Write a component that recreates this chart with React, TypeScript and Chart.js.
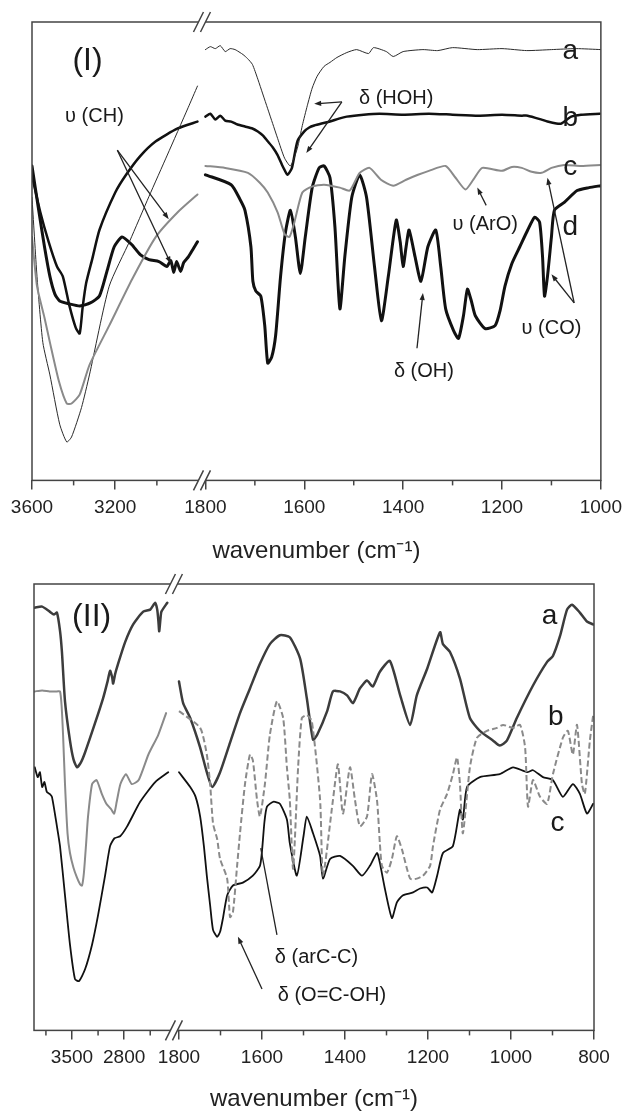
import React, { useEffect, useRef } from 'react';
import { Chart, registerables, LinearScale } from 'chart.js';

Chart.register(...registerables);

const FONT = '"Liberation Sans", Arial, Helvetica, sans-serif';

// ---------- axis layout (broken wavenumber axis) ----------
type Seg = { from: number; to: number; start: number; end: number };
const SEGMENTS: Record<string, Seg[]> = {
  I: [
    { from: 3600, to: 2800, start: 0, end: 168 / 574 },
    { from: 1800, to: 1000, start: 175 / 574, end: 1 },
  ],
  II: [
    { from: 4010, to: 2200, start: 0, end: 134.85 / 560 },
    { from: 1800, to: 800, start: 145 / 560, end: 1 },
  ],
};

class BrokenAxis extends LinearScale {
  static id = 'brokenAxis';
  segs(): Seg[] {
    return SEGMENTS[(this.options as any).segmentKey] || SEGMENTS.I;
  }
  getPixelForValue(value: number) {
    if (value === null || value === undefined || isNaN(value)) return NaN;
    const segs = this.segs();
    let best = segs[0];
    let bestDist = Infinity;
    for (const s of segs) {
      const hi = Math.max(s.from, s.to);
      const lo = Math.min(s.from, s.to);
      if (value >= lo && value <= hi) { best = s; break; }
      const d = Math.min(Math.abs(value - lo), Math.abs(value - hi));
      if (d < bestDist) { bestDist = d; best = s; }
    }
    const t = (best.from - value) / (best.from - best.to);
    const frac = best.start + t * (best.end - best.start);
    return this.left + frac * this.width;
  }
  getValueForPixel(pixel: number) {
    const segs = this.segs();
    const frac = (pixel - this.left) / this.width;
    for (const s of segs) {
      if (frac >= s.start && frac <= s.end) {
        return s.from + ((frac - s.start) / (s.end - s.start)) * (s.to - s.from);
      }
    }
    return segs[0].from;
  }
}
Chart.register(BrokenAxis as any);

// ---------- tick labels ----------
const I_MAJOR = [3600, 3200, 1800, 1600, 1400, 1200, 1000];
const I_MINOR = [3400, 3000, 1700, 1500, 1300, 1100];
const II_MAJOR = [3500, 2800, 1800, 1600, 1400, 1200, 1000, 800];
const II_MINOR = [3850, 3150, 2450, 1700, 1500, 1300, 1100, 900];

// ---------- Panel (I) spectra: [wavenumber, transmittance a.u.] ----------
const I_A_L = [[3600,287],[3576,207],[3548,140],[3514,107],[3467,57],[3433,39],[3410,44],[3362,74],[3324,107],[3229,197],[3130,243],[3038,288],[2950,330],[2850,378],[2805,400]];
const I_B_L = [[3600,309],[3560,272],[3520,242],[3480,217],[3452,207],[3420,177],[3390,155],[3371,149],[3357,175],[3340,200],[3310,225],[3276,254],[3200,292],[3148,310],[3080,329],[3005,344],[2900,357],[2805,364]];
const I_C_L = [[3600,247],[3576,197],[3540,165],[3514,140],[3470,100],[3433,78],[3410,78],[3371,87],[3324,117],[3229,157],[3119,204],[3005,247],[2900,272],[2805,290]];
const I_D_L = [[3600,319],[3570,277],[3540,237],[3514,207],[3490,189],[3467,182],[3419,179],[3370,177],[3320,180],[3276,187],[3240,212],[3205,237],[3167,247],[3120,239],[3080,229],[3038,224],[2990,222],[2952,217],[2933,223],[2919,211],[2905,222],[2886,212],[2871,221],[2848,227],[2825,235],[2805,242]];

const I_A_R = [[1800,437],[1790,440],[1780,438],[1770,441],[1760,435],[1750,438],[1740,437],[1730,434],[1724,432],[1715,428],[1705,422],[1694,407],[1684,392],[1674,377],[1664,362],[1654,347],[1640,327],[1628,319],[1614,337],[1604,360],[1594,380],[1584,398],[1574,410],[1560,420],[1548,424],[1534,429],[1514,434],[1494,437],[1470,433],[1460,439],[1434,435],[1420,430],[1400,435],[1360,437],[1330,436],[1300,439],[1250,437],[1200,438],[1150,436],[1100,437],[1050,438],[1000,437]];
const I_B_R = [[1800,369],[1790,372],[1780,366],[1770,370],[1760,365],[1748,364],[1735,361],[1720,359],[1705,357],[1694,354],[1684,350],[1674,344],[1664,338],[1654,330],[1645,320],[1640,315],[1634,310],[1625,317],[1614,344],[1600,354],[1590,358],[1580,360],[1565,362],[1548,364],[1530,367],[1514,369],[1480,371],[1448,372],[1400,371],[1348,372],[1300,371],[1248,370],[1200,371],[1160,370],[1148,370],[1120,366],[1108,364],[1090,362],[1080,362],[1060,369],[1040,371],[1002,372]];
const I_C_R = [[1800,319],[1760,317],[1714,312],[1690,302],[1674,292],[1654,272],[1640,250],[1630,247],[1620,262],[1604,292],[1585,298],[1560,300],[1528,297],[1508,294],[1488,312],[1468,317],[1445,305],[1420,299],[1394,305],[1370,310],[1348,314],[1314,319],[1294,307],[1274,295],[1258,305],[1240,317],[1200,314],[1180,318],[1160,317],[1140,313],[1120,312],[1100,317],[1074,320],[1040,319],[1000,320]];
const I_D_R = [[1800,310],[1748,300],[1730,285],[1720,274],[1708,237],[1704,202],[1698,192],[1688,187],[1680,157],[1674,119],[1666,125],[1658,147],[1648,207],[1638,252],[1628,274],[1618,247],[1608,210],[1598,247],[1584,297],[1570,317],[1560,319],[1548,307],[1538,257],[1528,174],[1518,227],[1504,287],[1488,310],[1474,287],[1458,217],[1444,162],[1430,207],[1414,264],[1406,242],[1400,217],[1394,237],[1388,254],[1376,227],[1364,202],[1350,237],[1334,254],[1324,217],[1314,174],[1298,152],[1288,144],[1278,167],[1270,194],[1262,182],[1254,167],[1234,154],[1214,157],[1204,172],[1194,197],[1180,220],[1164,237],[1148,254],[1134,267],[1124,262],[1118,227],[1114,187],[1108,207],[1100,247],[1094,274],[1074,282],[1048,294],[1024,297],[1000,299]];

// ---------- Panel (II) spectra ----------
const II_A_L = [[4000,429],[3900,430],[3800,425],[3740,422],[3702,424],[3660,405],[3635,384],[3594,334],[3527,294],[3480,275],[3433,267],[3380,272],[3325,282],[3190,312],[3083,337],[3020,355],[2989,365],[2960,358],[2948,352],[2920,362],[2894,369],[2787,394],[2679,412],[2544,425],[2450,427],[2383,434],[2356,427],[2340,415],[2329,405],[2310,420],[2300,425],[2221,434]];
const II_B_L = [[4000,344],[3900,345],[3800,344],[3700,344],[3661,344],[3640,330],[3620,300],[3594,250],[3560,200],[3527,180],[3480,165],[3433,155],[3390,148],[3365,147],[3340,160],[3310,190],[3285,217],[3230,250],[3170,254],[3100,240],[3039,230],[2980,225],[2934,220],[2900,232],[2850,250],[2776,260],[2697,250],[2605,254],[2474,280],[2342,300],[2237,322]];
const II_C_L = [[4000,267],[3960,257],[3931,262],[3900,247],[3870,252],[3838,242],[3800,240],[3769,237],[3702,207],[3661,187],[3594,137],[3527,87],[3460,52],[3406,50],[3325,62],[3231,87],[3150,117],[3056,157],[2989,187],[2930,195],[2854,197],[2760,207],[2585,232],[2383,252],[2208,262]];

const II_A_R = [[1800,354],[1790,332],[1773,317],[1749,287],[1733,262],[1720,247],[1701,262],[1677,292],[1653,322],[1629,347],[1605,372],[1581,392],[1557,401],[1533,399],[1508,377],[1492,337],[1477,295],[1467,300],[1443,324],[1429,344],[1412,344],[1395,340],[1381,332],[1364,347],[1347,355],[1333,349],[1316,364],[1292,375],[1267,340],[1243,310],[1227,340],[1202,367],[1171,404],[1164,392],[1147,384],[1123,357],[1099,317],[1075,304],[1043,294],[1027,289],[1010,294],[986,317],[947,350],[913,374],[899,380],[882,400],[865,427],[853,432],[834,424],[817,415],[802,412]];
const II_B_R = [[1800,324],[1749,307],[1733,280],[1725,250],[1718,210],[1708,194],[1701,174],[1684,154],[1677,115],[1670,120],[1660,167],[1653,200],[1641,250],[1629,280],[1622,274],[1612,234],[1605,217],[1593,250],[1581,300],[1564,334],[1549,317],[1540,267],[1533,234],[1525,164],[1513,267],[1504,317],[1492,320],[1480,314],[1460,234],[1453,157],[1429,234],[1417,270],[1405,220],[1388,267],[1376,234],[1364,207],[1347,217],[1335,260],[1323,234],[1316,190],[1311,167],[1299,160],[1287,174],[1275,197],[1263,184],[1243,154],[1227,154],[1212,157],[1195,167],[1188,187],[1171,224],[1154,240],[1140,260],[1130,277],[1123,250],[1116,200],[1099,267],[1082,297],[1058,304],[1034,307],[1019,310],[995,307],[978,310],[966,287],[959,227],[947,254],[930,237],[913,230],[899,260],[875,297],[863,304],[851,280],[841,310],[829,250],[822,240],[810,294],[802,320]];
const II_C_R = [[1800,262],[1773,247],[1760,237],[1749,217],[1740,187],[1733,157],[1725,127],[1718,102],[1708,95],[1701,100],[1694,114],[1684,137],[1670,147],[1646,150],[1622,157],[1605,167],[1600,182],[1594,212],[1588,227],[1573,232],[1557,230],[1540,214],[1533,190],[1516,157],[1500,197],[1492,217],[1477,200],[1460,177],[1453,154],[1436,174],[1412,177],[1381,167],[1359,157],[1340,167],[1323,180],[1316,170],[1304,144],[1287,114],[1275,130],[1261,137],[1236,140],[1219,144],[1202,145],[1190,140],[1178,157],[1164,180],[1140,187],[1123,224],[1116,214],[1106,247],[1075,257],[1027,260],[995,267],[961,262],[947,264],[923,257],[899,254],[875,237],[851,250],[834,240],[817,220],[802,230]];

// ---------- annotations (in data coordinates) ----------
type Note = { text: string; x: number; y: number; size: number; align: CanvasTextAlign; base: CanvasTextBaseline };
type Arrow = { x1: number; y1: number; x2: number; y2: number; head: boolean };

const I_NOTES: Note[] = [
  { text: '(I)', x: 3333, y: 425, size: 32, align: 'center', base: 'middle' },
  { text: 'υ (CH)', x: 3300, y: 369, size: 20, align: 'center', base: 'middle' },
  { text: 'δ (HOH)', x: 1414, y: 387, size: 20, align: 'center', base: 'middle' },
  { text: 'υ (ArO)', x: 1234, y: 260, size: 20, align: 'center', base: 'middle' },
  { text: 'υ (CO)', x: 1100, y: 154, size: 20, align: 'center', base: 'middle' },
  { text: 'δ (OH)', x: 1358, y: 110, size: 20, align: 'center', base: 'middle' },
  { text: 'a', x: 1062, y: 427, size: 28, align: 'center', base: 'alphabetic' },
  { text: 'b', x: 1062, y: 359, size: 28, align: 'center', base: 'alphabetic' },
  { text: 'c', x: 1062, y: 310, size: 28, align: 'center', base: 'alphabetic' },
  { text: 'd', x: 1062, y: 249, size: 28, align: 'center', base: 'alphabetic' },
];
const I_ARROWS: Arrow[] = [
  { x1: 3190, y1: 335, x2: 2943, y2: 265, head: true },
  { x1: 3190, y1: 335, x2: 2933, y2: 220, head: true },
  { x1: 1524, y1: 384, x2: 1580, y2: 382, head: true },
  { x1: 1524, y1: 384, x2: 1596, y2: 332, head: true },
  { x1: 1232, y1: 279, x2: 1250, y2: 297, head: true },
  { x1: 1054, y1: 180, x2: 1108, y2: 307, head: true },
  { x1: 1054, y1: 180, x2: 1100, y2: 209, head: true },
  { x1: 1372, y1: 134, x2: 1360, y2: 190, head: true },
];
const II_NOTES: Note[] = [
  { text: '(II)', x: 3236, y: 419, size: 32, align: 'center', base: 'middle' },
  { text: 'a', x: 907, y: 412, size: 28, align: 'center', base: 'alphabetic' },
  { text: 'b', x: 892, y: 310, size: 28, align: 'center', base: 'alphabetic' },
  { text: 'c', x: 888, y: 202, size: 28, align: 'center', base: 'alphabetic' },
  { text: 'δ (arC-C)', x: 1569, y: 74, size: 20, align: 'left', base: 'middle' },
  { text: 'δ (O=C-OH)', x: 1562, y: 35, size: 20, align: 'left', base: 'middle' },
];
const II_ARROWS: Arrow[] = [
  { x1: 1564, y1: 97, x2: 1603, y2: 185, head: false },
  { x1: 1600, y1: 42, x2: 1658, y2: 95, head: true },
];

type Spec = {
  key: string;
  height: number;
  padding: { left: number; right: number; top: number; bottom: number };
  yMax: number;
  xMin: number;
  xMax: number;
  major: number[];
  minor: number[];
  breakFrom: number;
  breakTo: number;
  titlePadTop: number;
  datasets: any[];
  notes: Note[];
  arrows: Arrow[];
};

function ds(label: string, pts: number[][], color: string, width: number, dash: number[] = []) {
  return {
    label,
    data: pts.map(([x, y]) => ({ x, y })),
    borderColor: color,
    borderWidth: width,
    borderDash: dash,
    pointRadius: 0,
    tension: 0.2,
    fill: false,
    borderJoinStyle: 'round',
    borderCapStyle: dash.length ? 'butt' : 'round',
  };
}

const SPEC_I: Spec = {
  key: 'I',
  height: 566,
  padding: { left: 32, right: 23, top: 22, bottom: 0 },
  yMax: 465,
  xMin: 1000,
  xMax: 3600,
  major: I_MAJOR,
  minor: I_MINOR,
  breakFrom: 2800,
  breakTo: 1800,
  titlePadTop: 11,
  datasets: [
    ds('c', I_C_L, '#8a8a8a', 2),
    ds('c', I_C_R, '#8a8a8a', 2),
    ds('a', I_A_L, '#2a2a2a', 1),
    ds('a', I_A_R, '#2a2a2a', 1),
    ds('b', I_B_L, '#111', 2.5),
    ds('b', I_B_R, '#111', 2.5),
    ds('d', I_D_L, '#111', 3),
    ds('d', I_D_R, '#111', 3),
  ],
  notes: I_NOTES,
  arrows: I_ARROWS,
};

const SPEC_II: Spec = {
  key: 'II',
  height: 548,
  padding: { left: 34, right: 35, top: 18, bottom: 0 },
  yMax: 453,
  xMin: 800,
  xMax: 4010,
  major: II_MAJOR,
  minor: II_MINOR,
  breakFrom: 2200,
  breakTo: 1800,
  titlePadTop: 9,
  datasets: [
    ds('b', II_B_L, '#8a8a8a', 2),
    ds('b', II_B_R, '#8a8a8a', 2, [6, 3]),
    ds('a', II_A_L, '#3c3c3c', 2.5),
    ds('a', II_A_R, '#3c3c3c', 2.5),
    ds('c', II_C_L, '#111', 1.8),
    ds('c', II_C_R, '#111', 1.8),
  ],
  notes: II_NOTES,
  arrows: II_ARROWS,
};

function decorPlugin(spec: Spec) {
  return {
    id: 'decor' + spec.key,
    afterDraw(chart: any) {
      const { ctx, chartArea: a, scales } = chart;
      const xs = scales.x;
      const ys = scales.y;
      ctx.save();
      ctx.strokeStyle = '#444';
      ctx.lineWidth = 1.5;
      // minor ticks
      for (const v of spec.minor) {
        const px = xs.getPixelForValue(v);
        ctx.beginPath();
        ctx.moveTo(px, a.bottom);
        ctx.lineTo(px, a.bottom + 5);
        ctx.stroke();
      }
      // frame
      ctx.strokeRect(a.left, a.top, a.right - a.left, a.bottom - a.top);
      // axis break marks
      const cx = (xs.getPixelForValue(spec.breakFrom) + xs.getPixelForValue(spec.breakTo)) / 2;
      for (const yy of [a.top, a.bottom]) {
        ctx.fillStyle = '#fff';
        ctx.beginPath();
        ctx.moveTo(cx - 3.5 - 2.5, yy + 5);
        ctx.lineTo(cx - 3.5 + 2.5, yy - 5);
        ctx.lineTo(cx + 3.5 + 2.5, yy - 5);
        ctx.lineTo(cx + 3.5 - 2.5, yy + 5);
        ctx.closePath();
        ctx.fill();
        ctx.beginPath();
        for (const off of [-3.5, 3.5]) {
          ctx.moveTo(cx + off - 5, yy + 10);
          ctx.lineTo(cx + off + 5, yy - 10);
        }
        ctx.stroke();
      }
      // arrows
      ctx.strokeStyle = '#222';
      ctx.fillStyle = '#222';
      ctx.lineWidth = 1.3;
      for (const ar of spec.arrows) {
        const x1 = xs.getPixelForValue(ar.x1);
        const y1 = ys.getPixelForValue(ar.y1);
        const x2 = xs.getPixelForValue(ar.x2);
        const y2 = ys.getPixelForValue(ar.y2);
        const ang = Math.atan2(y2 - y1, x2 - x1);
        const L = 7;
        const W = 2.6;
        ctx.beginPath();
        ctx.moveTo(x1, y1);
        if (ar.head) ctx.lineTo(x2 - Math.cos(ang) * 4, y2 - Math.sin(ang) * 4);
        else ctx.lineTo(x2, y2);
        ctx.stroke();
        if (ar.head) {
          ctx.beginPath();
          ctx.moveTo(x2, y2);
          ctx.lineTo(x2 - L * Math.cos(ang) + W * Math.sin(ang), y2 - L * Math.sin(ang) - W * Math.cos(ang));
          ctx.lineTo(x2 - L * Math.cos(ang) - W * Math.sin(ang), y2 - L * Math.sin(ang) + W * Math.cos(ang));
          ctx.closePath();
          ctx.fill();
        }
      }
      // text notes
      for (const n of spec.notes) {
        ctx.font = `${n.size}px ${FONT}`;
        ctx.textAlign = n.align;
        ctx.textBaseline = n.base;
        ctx.fillStyle = '#1a1a1a';
        ctx.fillText(n.text, xs.getPixelForValue(n.x), ys.getPixelForValue(n.y));
      }
      ctx.restore();
    },
  };
}

function buildConfig(spec: Spec): any {
  return {
    type: 'line',
    data: { datasets: spec.datasets },
    options: {
      responsive: false,
      animation: false,
      events: [],
      layout: { padding: spec.padding },
      plugins: { legend: { display: false }, tooltip: { enabled: false } },
      scales: {
        x: {
          type: 'brokenAxis',
          segmentKey: spec.key,
          min: spec.xMin,
          max: spec.xMax,
          afterBuildTicks: (scale: any) => {
            scale.ticks = spec.major.map((v) => ({ value: v }));
          },
          grid: { display: true, drawOnChartArea: false, drawTicks: true, tickLength: 9, color: '#444', lineWidth: 1.5 },
          border: { display: false },
          ticks: {
            autoSkip: false,
            maxRotation: 0,
            minRotation: 0,
            padding: 7,
            color: '#222',
            font: { size: 19, family: FONT },
            callback: (v: any) => String(v),
          },
          title: {
            display: true,
            text: 'wavenumber (cm⁻¹)',
            color: '#222',
            font: { size: 24, family: FONT },
            padding: { top: spec.titlePadTop, bottom: 0 },
          },
        },
        y: { type: 'linear', display: false, min: 0, max: spec.yMax },
      },
    },
    plugins: [decorPlugin(spec)],
  };
}

function Panel({ spec, top }: { spec: Spec; top: number }) {
  const ref = useRef<HTMLCanvasElement>(null);
  useEffect(() => {
    const chart = new Chart(ref.current as HTMLCanvasElement, buildConfig(spec));
    return () => chart.destroy();
  }, [spec]);
  return (
    <canvas
      ref={ref}
      width={629}
      height={spec.height}
      style={{ position: 'absolute', left: 0, top, width: 629, height: spec.height }}
    />
  );
}

export default function App() {
  return (
    <div style={{ position: 'absolute', left: 0, top: 0, width: 629, height: 1114, background: '#fff', overflow: 'hidden' }}>
      <Panel spec={SPEC_I} top={0} />
      <Panel spec={SPEC_II} top={566} />
    </div>
  );
}
